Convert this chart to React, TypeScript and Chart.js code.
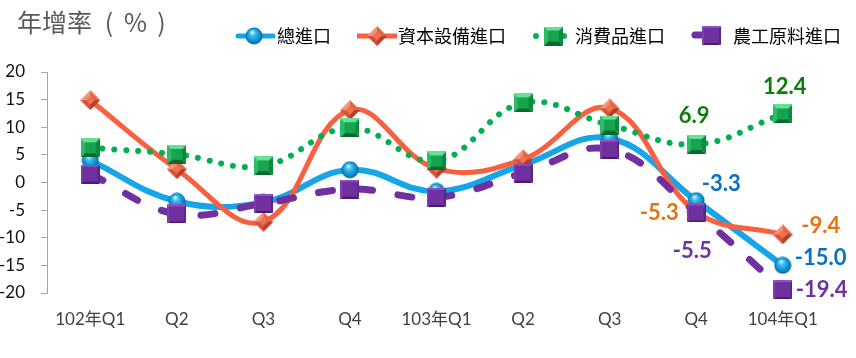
import React, { useEffect, useRef } from "react";
import { Chart, registerables } from "chart.js";

Chart.register(...registerables);

// ---------- data ----------
const categories = ["102年Q1", "Q2", "Q3", "Q4", "103年Q1", "Q2", "Q3", "Q4", "104年Q1"];
const totalImports = [4.0, -3.4, -3.6, 2.3, -1.6, 3.2, 8.0, -3.3, -15.0];
const capitalEquipment = [14.9, 2.4, -7.1, 13.1, 2.5, 4.2, 13.4, -5.3, -9.4];
const consumerGoods = [6.3, 5.1, 3.0, 9.9, 3.9, 14.4, 10.4, 6.9, 12.4];
const rawMaterials = [1.5, -5.7, -3.8, -1.2, -2.7, 1.7, 6.0, -5.5, -19.4];
const seriesNames = ["總進口", "資本設備進口", "消費品進口", "農工原料進口"];
const yMin = -20;
const yMax = 20;
const yStep = 5;
const labeledIndices = [7, 8];
const titleText = ["年增率", "(", "%", ")"];

// ---------- styles ----------
const CJK = "'Noto Sans CJK TC', 'Noto Sans', sans-serif";
const LATIN = "Lato, 'Noto Sans CJK TC', sans-serif";

function makeCanvas(w: number, h: number) {
  const c = document.createElement("canvas");
  c.width = w;
  c.height = h;
  return c;
}

function makeSphere(d: number) {
  const c = makeCanvas(d, d);
  const g = c.getContext("2d")!;
  const r = d / 2;
  const grad = g.createRadialGradient(r * 0.8, r * 0.55, r * 0.05, r, r, r);
  grad.addColorStop(0, "#d2f4ff");
  grad.addColorStop(0.3, "#38bcf2");
  grad.addColorStop(0.75, "#0a88ca");
  grad.addColorStop(1, "#06558a");
  g.fillStyle = grad;
  g.beginPath();
  g.arc(r, r, r - 0.5, 0, Math.PI * 2);
  g.fill();
  return c;
}

function poly(g: CanvasRenderingContext2D, pts: number[][], color: string) {
  g.fillStyle = color;
  g.beginPath();
  g.moveTo(pts[0][0], pts[0][1]);
  for (let i = 1; i < pts.length; i++) g.lineTo(pts[i][0], pts[i][1]);
  g.closePath();
  g.fill();
}

function makeDiamond(d: number) {
  const c = makeCanvas(d, d);
  const g = c.getContext("2d")!;
  const r = d / 2;
  poly(g, [[r, 0], [0, r], [r, r]], "#f39577");
  poly(g, [[r, 0], [d, r], [r, r]], "#e66446");
  poly(g, [[0, r], [r, d], [r, r]], "#d5523a");
  poly(g, [[d, r], [r, d], [r, r]], "#b43d28");
  const s = r * 0.45;
  poly(g, [[r, r - s], [r + s, r], [r, r + s], [r - s, r]], "#ec7254");
  return c;
}

function makeBevelSquare(d: number, b: number, cols: string[]) {
  const c = makeCanvas(d, d);
  const g = c.getContext("2d")!;
  poly(g, [[0, 0], [d, 0], [d - b, b], [b, b]], cols[0]);
  poly(g, [[0, 0], [b, b], [b, d - b], [0, d]], cols[1]);
  poly(g, [[d, 0], [d, d], [d - b, d - b], [d - b, b]], cols[2]);
  poly(g, [[0, d], [b, d - b], [d - b, d - b], [d, d]], cols[3]);
  g.fillStyle = cols[4];
  g.fillRect(b, b, d - 2 * b, d - 2 * b);
  return c;
}

export default function App() {
  const ref = useRef<HTMLCanvasElement | null>(null);

  useEffect(() => {
    document.body.style.margin = "0";
    const canvas = ref.current;
    if (!canvas) return;

    const sphere = makeSphere(18);
    const diamond = makeDiamond(20);
    const greenSq = makeBevelSquare(19, 4, ["#62e394", "#2cbc68", "#0b8a3e", "#08692f", "#16a451"]);
    const purpleSq = makeBevelSquare(19, 2, ["#8d52bd", "#7d3db0", "#5a2388", "#4b1b72", "#7030a0"]);

    const labelStyles = [
      { color: "#0a70c0", off: [[25, -17], [38, -7]] },
      { color: "#e8720c", off: [[-37, 1], [38, -9]] },
      { color: "#0a7d0a", off: [[-2, -28], [2, -27]] },
      { color: "#7030a0", off: [[-4, 38], [39, 0]] },
    ];

    const overlay = {
      id: "overlay",
      afterDatasetsDraw(chart: any) {
        const ctx = chart.ctx as CanvasRenderingContext2D;
        ctx.save();
        ctx.font = "bold 22px " + LATIN;
        ctx.textAlign = "center";
        ctx.textBaseline = "middle";
        chart.data.datasets.forEach((ds: any, i: number) => {
          const meta = chart.getDatasetMeta(i);
          labeledIndices.forEach((idx, k) => {
            const pt = meta.data[idx];
            if (!pt) return;
            const [dx, dy] = labelStyles[i].off[k];
            ctx.fillStyle = labelStyles[i].color;
            ctx.fillText((ds.data[idx] as number).toFixed(1), pt.x + dx, pt.y + dy);
          });
        });
        ctx.restore();
      },
      afterDraw(chart: any) {
        const ctx = chart.ctx as CanvasRenderingContext2D;
        ctx.save();
        // title
        ctx.fillStyle = "#595959";
        ctx.font = "25px " + CJK;
        ctx.textBaseline = "middle";
        ctx.textAlign = "left";
        ctx.fillText(titleText[0], 17, 22);
        ctx.textAlign = "center";
        ctx.fillText(titleText[1], 109, 22);
        ctx.fillText(titleText[2], 135.5, 22);
        ctx.fillText(titleText[3], 161.5, 22);

        // legend
        const ly = 36;
        ctx.lineCap = "round";
        // total
        ctx.strokeStyle = "#16a5e6";
        ctx.lineWidth = 5;
        ctx.beginPath();
        ctx.moveTo(238, ly);
        ctx.lineTo(273, ly);
        ctx.stroke();
        ctx.drawImage(sphere, 254 - 9, ly - 9);
        // capital
        ctx.strokeStyle = "#f9603f";
        ctx.lineCap = "butt";
        ctx.beginPath();
        ctx.moveTo(357, ly);
        ctx.lineTo(397, ly);
        ctx.stroke();
        ctx.drawImage(diamond, 377 - 10, ly - 10);
        // consumer
        ctx.fillStyle = "#00b050";
        ctx.beginPath();
        ctx.arc(536, ly, 3, 0, Math.PI * 2);
        ctx.arc(564, ly, 3, 0, Math.PI * 2);
        ctx.fill();
        ctx.drawImage(greenSq, 553.5 - 9.5, ly - 9.5);
        // raw materials
        ctx.strokeStyle = "#7030a0";
        ctx.lineWidth = 7;
        ctx.lineCap = "round";
        ctx.beginPath();
        ctx.moveTo(695, ly - 1);
        ctx.lineTo(704, ly - 1);
        ctx.stroke();
        ctx.drawImage(purpleSq, 711.5 - 9.5, ly - 10);

        ctx.fillStyle = "#000000";
        ctx.font = "18px " + CJK;
        ctx.textAlign = "left";
        ctx.textBaseline = "middle";
        ctx.fillText(seriesNames[0], 277, ly);
        ctx.fillText(seriesNames[1], 398, ly);
        ctx.fillText(seriesNames[2], 575, ly);
        ctx.fillText(seriesNames[3], 733, ly);
        ctx.restore();
      },
    };

    const chart = new Chart(canvas, {
      type: "line",
      data: {
        labels: categories,
        datasets: [
          {
            label: seriesNames[0],
            data: totalImports,
            borderColor: "#16a5e6",
            borderWidth: 6,
            tension: 0.4,
            pointStyle: sphere as any,
            pointRadius: 9,
            pointHoverRadius: 9,
            order: 3,
            clip: false as any,
          },
          {
            label: seriesNames[1],
            data: capitalEquipment,
            borderColor: "#f9603f",
            borderWidth: 5,
            tension: 0.4,
            pointStyle: diamond as any,
            pointRadius: 10,
            pointHoverRadius: 10,
            order: 2,
            clip: false as any,
          },
          {
            label: seriesNames[2],
            data: consumerGoods,
            borderColor: "#00b050",
            borderWidth: 6,
            borderDash: [0.01, 12],
            borderCapStyle: "round",
            tension: 0.4,
            pointStyle: greenSq as any,
            pointRadius: 10,
            pointHoverRadius: 10,
            order: 1,
            clip: false as any,
          },
          {
            label: seriesNames[3],
            data: rawMaterials,
            borderColor: "#7030a0",
            borderWidth: 7,
            borderDash: [14, 26],
            borderCapStyle: "round",
            tension: 0.4,
            pointStyle: purpleSq as any,
            pointRadius: 10,
            pointHoverRadius: 10,
            order: 0,
            clip: false as any,
          },
        ],
      },
      options: {
        responsive: false,
        animation: false,
        devicePixelRatio: 1,
        layout: { padding: { top: 72, right: 30, bottom: 0, left: 0 } },
        plugins: {
          legend: { display: false },
          title: { display: false },
          tooltip: { enabled: false },
        },
        scales: {
          x: {
            type: "category",
            offset: true,
            grid: { display: false, drawTicks: false },
            border: { display: false },
            ticks: {
              font: { family: LATIN, size: 17 },
              color: "#404040",
              padding: 16,
              maxRotation: 0,
              autoSkip: false,
            },
            afterFit(scale: any) {
              scale.height = 65;
            },
          },
          y: {
            min: yMin,
            max: yMax,
            ticks: {
              stepSize: yStep,
              font: { family: LATIN, size: 17 },
              color: "#111111",
              padding: 16,
            },
            grid: {
              drawOnChartArea: false,
              drawTicks: true,
              tickLength: 6,
              color: "#a6a6a6",
            },
            border: { display: true, color: "#a6a6a6", width: 1 },
            afterFit(scale: any) {
              scale.width = 47;
            },
          },
        },
      },
      plugins: [overlay],
    });

    return () => chart.destroy();
  }, []);

  return (
    <div style={{ position: "relative", width: 856, height: 358, background: "#ffffff" }}>
      <canvas ref={ref} width={856} height={358} style={{ display: "block" }} />
    </div>
  );
}
